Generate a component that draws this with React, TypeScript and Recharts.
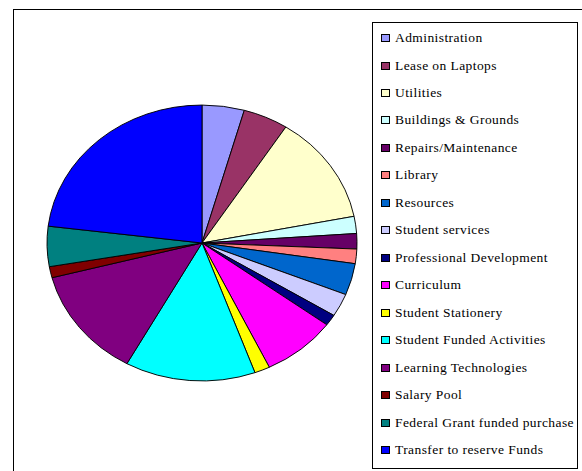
import { PieChart, Pie, Cell, Legend } from "recharts";

// budget categories, clockwise from 12 o'clock
const categories = [
  "Administration",
  "Lease on Laptops",
  "Utilities",
  "Buildings & Grounds",
  "Repairs/Maintenance",
  "Library",
  "Resources",
  "Student services",
  "Professional Development",
  "Curriculum",
  "Student Stationery",
  "Student Funded Activities",
  "Learning Technologies",
  "Salary Pool",
  "Federal Grant funded purchase",
  "Transfer to reserve Funds",
];

// share of budget (%)
const shares = [
  4.4, 4.7, 12.8, 2.0, 1.8, 1.7, 3.7, 2.7, 1.3, 7.75, 1.6, 13.6, 12.9, 1.3,
  4.7, 23.05,
];

const colors = [
  "#9999FF",
  "#993366",
  "#FFFFCC",
  "#CCFFFF",
  "#660066",
  "#FF8080",
  "#0066CC",
  "#CCCCFF",
  "#000080",
  "#FF00FF",
  "#FFFF00",
  "#00FFFF",
  "#800080",
  "#800000",
  "#008080",
  "#0000FF",
];

const data = categories.map((name, i) => ({ name, value: shares[i] }));

const FONT = '"Liberation Serif", "Times New Roman", serif';

function LegendBox(props: any) {
  // keep the data order, not alphabetical
  const items = [...(props.payload || [])].sort(
    (a: any, b: any) => categories.indexOf(a.value) - categories.indexOf(b.value)
  );
  return (
    <div
      style={{
        boxSizing: "border-box",
        width: 206,
        height: 447,
        border: "1px solid #000",
        background: "#fff",
        paddingTop: 1.3,
        fontFamily: FONT,
        fontSize: 13.5,
        color: "#000",
      }}
    >
      {items.map((entry: any) => (
        <div
          key={entry.value}
          style={{
            height: 27.47,
            display: "flex",
            alignItems: "center",
            paddingLeft: 8,
            whiteSpace: "nowrap",
          }}
        >
          <span
            style={{
              display: "inline-block",
              boxSizing: "border-box",
              width: 9,
              height: 8,
              border: "1px solid #000",
              background: entry.color,
              marginRight: 5,
            }}
          />
          <span style={{ letterSpacing: 0.42 }}>{entry.value}</span>
        </div>
      ))}
    </div>
  );
}

export default function App() {
  return (
    <div
      className="budget-pie"
      style={{
        position: "relative",
        width: 582,
        height: 471,
        overflow: "hidden",
        background: "#fff",
      }}
    >
      <style>{`
        body { margin: 0; }
        .budget-pie .recharts-wrapper > svg.recharts-surface {
          transform: scaleY(0.89);
          transform-origin: 202px 243px;
        }
      `}</style>
      <div
        style={{
          position: "absolute",
          left: 13,
          top: 9,
          width: 700,
          height: 700,
          borderLeft: "1px solid #000",
          borderTop: "1px solid #000",
        }}
      />
      <div style={{ position: "absolute", left: 0, top: 0 }}>
        <PieChart
          width={582}
          height={471}
          margin={{ top: 0, right: 0, bottom: 0, left: 0 }}
        >
          <Pie
            data={data}
            dataKey="value"
            nameKey="name"
            cx={202}
            cy={243}
            outerRadius={155}
            startAngle={90}
            endAngle={-270}
            stroke="#000"
            strokeWidth={1}
            isAnimationActive={false}
          >
            {data.map((d, i) => (
              <Cell key={d.name} fill={colors[i]} />
            ))}
          </Pie>
          <Legend
            layout="vertical"
            align="right"
            verticalAlign="top"
            itemSorter={null}
            content={LegendBox}
            wrapperStyle={{ left: 372, top: 22, width: 206, height: 447 }}
          />
        </PieChart>
      </div>
    </div>
  );
}
